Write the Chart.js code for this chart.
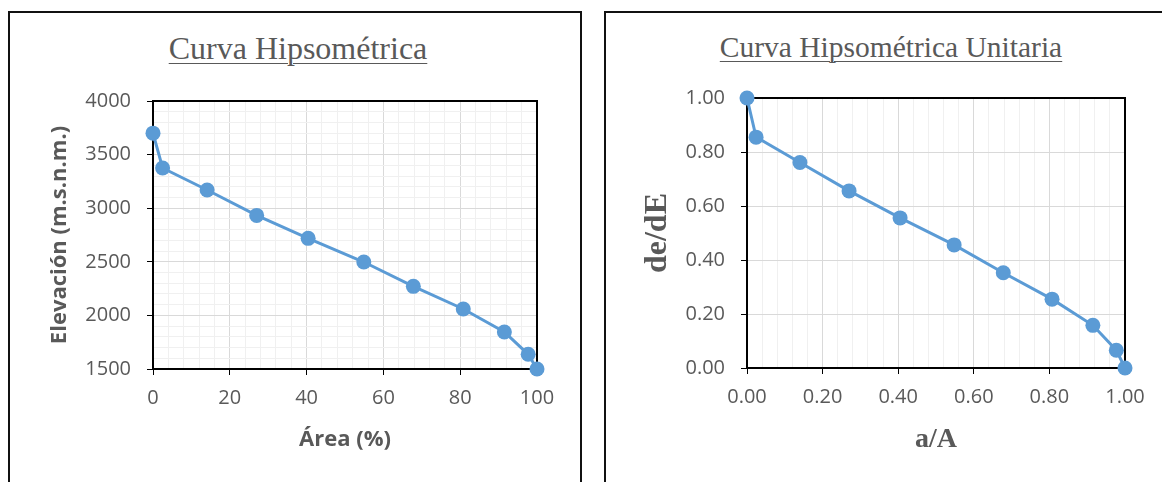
<!DOCTYPE html>
<html>
<head>
<meta charset="utf-8">
<script src="https://cdn.jsdelivr.net/npm/chart.js@4"></script>
<style>
  body { margin: 0; background: #fff; width: 1162px; height: 482px; overflow: hidden; position: relative; }
  .box { position: absolute; top: 11px; height: 480px; border: 2px solid #111; box-sizing: border-box; }
  .titulo { position: absolute; font-family: "Liberation Serif", serif; color: #595959; line-height: 1;
            text-decoration: underline; text-underline-offset: 4px; text-decoration-thickness: 1px; white-space: nowrap;
            transform: translateX(-50%); }
  canvas { position: absolute; }
</style>
</head>
<body>
<div class="box" style="left:8px; width:574px;"></div>
<div class="box" style="left:604px; width:570px;"></div>
<div class="titulo" style="left:298px; top:32px; font-size:32px;">Curva Hipsométrica</div>
<div class="titulo" style="left:891px; top:33px; font-size:29.5px;">Curva Hipsométrica Unitaria</div>
<canvas id="curva" width="568" height="469" style="left:10px; top:13px; width:568px; height:469px;"></canvas>
<canvas id="unitaria" width="556" height="469" style="left:606px; top:13px; width:556px; height:469px;"></canvas>
<script>
// datos
const areaPct = [0, 2.5, 14.1, 27.0, 40.4, 54.9, 67.8, 80.8, 91.5, 97.7, 100];
const elevacion = [3700, 3375, 3170, 2933, 2719, 2498, 2271, 2060, 1845, 1637, 1500];
const areaRel = [0, 0.024, 0.140, 0.270, 0.405, 0.548, 0.678, 0.807, 0.915, 0.977, 1.0];
const elevRel = [1.0, 0.855, 0.761, 0.656, 0.556, 0.456, 0.353, 0.255, 0.158, 0.066, 0];

const azul = "#5b9bd5";
const gris = "#595959";

// marco negro alrededor del area del grafico
const marco = {
  id: "marco",
  beforeDatasetsDraw(chart) {
    const { ctx, chartArea: a } = chart;
    ctx.save();
    ctx.strokeStyle = "#000";
    ctx.lineWidth = 2;
    ctx.strokeRect(a.left, a.top, a.right - a.left, a.bottom - a.top);
    ctx.restore();
  },
};

function serie(xs, ys) {
  return xs.map((x, i) => ({ x: x, y: ys[i] }));
}

function dataset(xs, ys) {
  return {
    data: serie(xs, ys),
    showLine: true,
    borderColor: azul,
    backgroundColor: azul,
    borderWidth: 3,
    pointRadius: 7.5,
    pointHoverRadius: 7.5,
    pointBorderWidth: 0,
    clip: false,
    tension: 0,
  };
}

const tickFont = { family: "Open Sans", size: 20 };

// grafico 1
new Chart(document.getElementById("curva"), {
  type: "scatter",
  data: { datasets: [dataset(areaPct, elevacion)] },
  plugins: [marco],
  options: {
    responsive: false,
    animation: false,
    layout: { padding: { left: 0, right: 41, top: 88, bottom: 0 } },
    plugins: { legend: { display: false }, tooltip: { enabled: false } },
    scales: {
      x: {
        type: "linear", min: 0, max: 100,
        ticks: {
          stepSize: 4, maxRotation: 0, autoSkip: false, padding: 11, color: gris, font: tickFont,
          callback: (v) => (v % 20 === 0 ? v : ""),
        },
        grid: {
          color: (c) => (c.tick && c.tick.value % 20 === 0 ? "#d9d9d9" : "#f0f0f0"),
          tickColor: (c) => (c.tick && c.tick.value % 20 === 0 ? "#000" : "rgba(0,0,0,0)"),
          tickLength: 6,
        },
        border: { display: false },
        title: { display: true, text: "Área (%)", color: gris, font: { family: "Open Sans", size: 22, weight: "bold" }, padding: { top: 0, bottom: 29 } },
        afterFit: (s) => { s.height = 113; },
      },
      y: {
        type: "linear", min: 1500, max: 4000,
        ticks: {
          stepSize: 100, autoSkip: false, padding: 16, color: gris, font: tickFont,
          callback: (v) => (v % 500 === 0 ? v : ""),
        },
        grid: {
          color: (c) => (c.tick && c.tick.value % 500 === 0 ? "#d9d9d9" : "#f0f0f0"),
          tickColor: (c) => (c.tick && c.tick.value % 500 === 0 ? "#000" : "rgba(0,0,0,0)"),
          tickLength: 6,
        },
        border: { display: false },
        title: { display: true, text: "Elevación (m.s.n.m.)", color: gris, font: { family: "Open Sans", size: 22, weight: "bold" }, padding: { top: 37, bottom: 0 } },
        afterFit: (s) => { s.width = 143; },
      },
    },
  },
});

// grafico 2
const esMayor = (v) => Math.round(v * 100) % 20 === 0;

new Chart(document.getElementById("unitaria"), {
  type: "scatter",
  data: { datasets: [dataset(areaRel, elevRel)] },
  plugins: [marco],
  options: {
    responsive: false,
    animation: false,
    layout: { padding: { left: 0, right: 37, top: 85, bottom: 0 } },
    plugins: { legend: { display: false }, tooltip: { enabled: false } },
    scales: {
      x: {
        type: "linear", min: 0, max: 1,
        ticks: {
          stepSize: 0.04, maxRotation: 0, autoSkip: false, padding: 11, color: gris, font: tickFont,
          callback: (v) => (esMayor(v) ? Number(v).toFixed(2) : ""),
        },
        grid: {
          color: (c) => (c.tick && esMayor(c.tick.value) ? "#d9d9d9" : "#f0f0f0"),
          tickColor: (c) => (c.tick && esMayor(c.tick.value) ? "#000" : "rgba(0,0,0,0)"),
          tickLength: 6,
        },
        border: { display: false },
        title: { display: true, text: "a/A", color: gris, font: { family: "Liberation Serif", size: 28, weight: "bold" }, padding: { top: 0, bottom: 25 } },
        afterFit: (s) => { s.height = 114; },
      },
      y: {
        type: "linear", min: 0, max: 1,
        ticks: {
          stepSize: 0.2, autoSkip: false, padding: 16, color: gris, font: tickFont,
          callback: (v) => Number(v).toFixed(2),
        },
        grid: { color: "#d9d9d9", tickColor: "#000", tickLength: 6 },
        border: { display: false },
        title: { display: true, text: "de/dE", color: gris, font: { family: "Liberation Serif", size: 32, weight: "bold" }, padding: { top: 33, bottom: 0 } },
        afterFit: (s) => { s.width = 141; },
      },
    },
  },
});
</script>
</body>
</html>
